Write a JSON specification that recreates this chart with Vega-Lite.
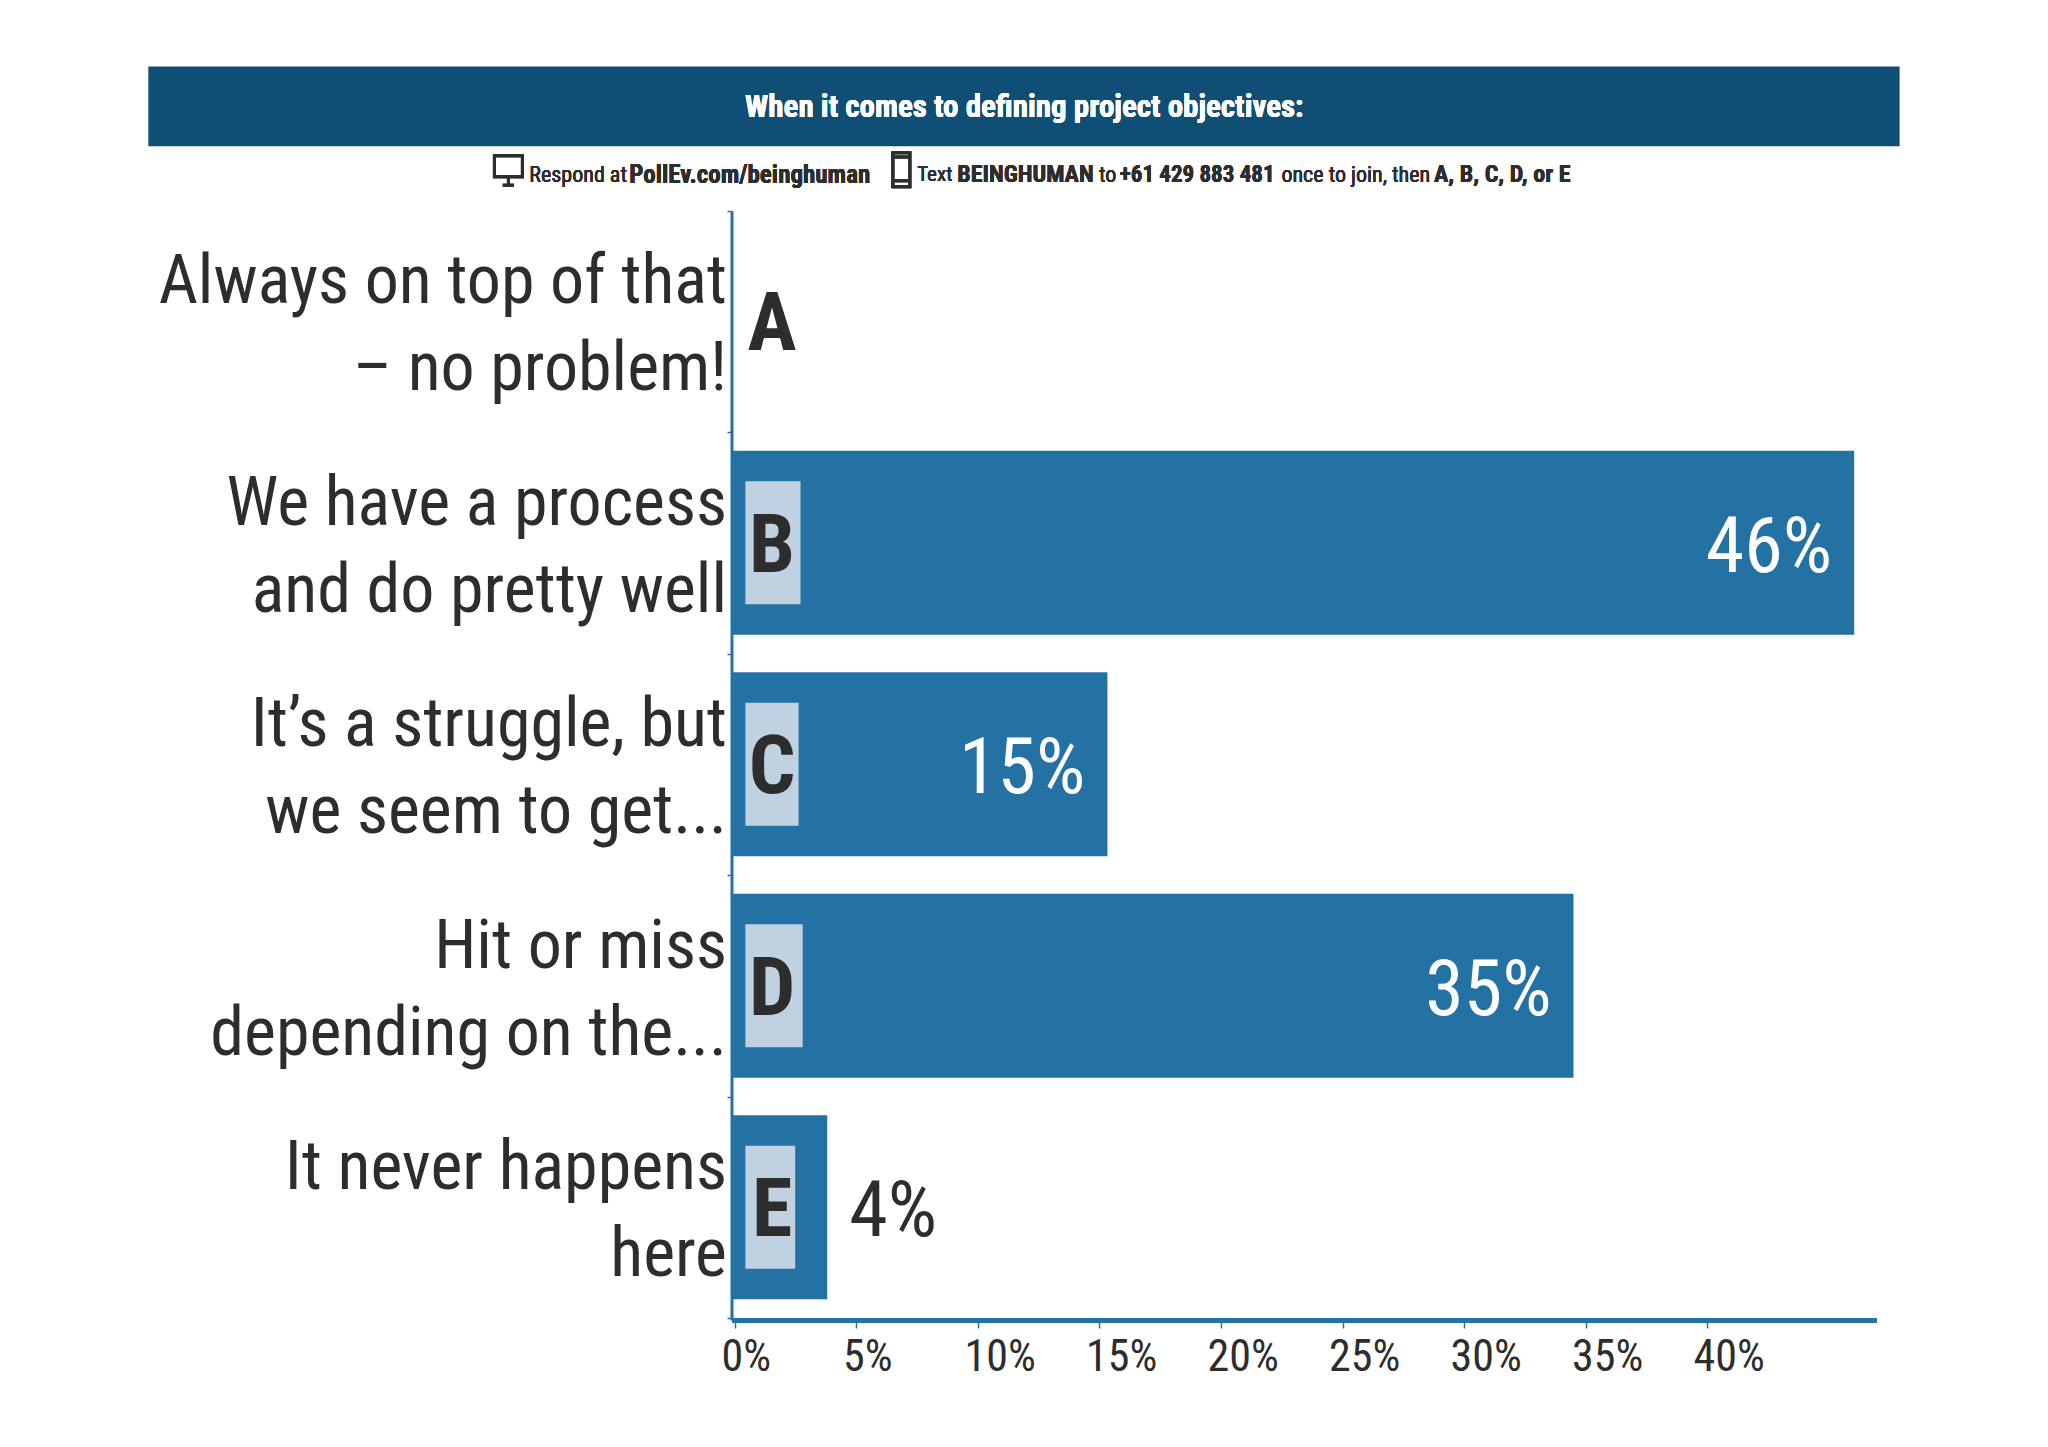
{"$schema":"https://vega.github.io/schema/vega-lite/v6.json","width":2048,"height":1447,"padding":0,"autosize":{"type":"none"},"background":"#ffffff","config":{"view":{"stroke":null},"font":"Roboto Condensed, Lato","text":{"font":"Roboto Condensed, Lato","color":"#2d2d2d"}},
"data":{"values":[
{"row":1,"letter":"A","label":["Always on top of that","– no problem!"],"value":0,"pct":"","tagStart":0.55,"tagEnd":null},
{"row":2,"letter":"B","label":["We have a process","and do pretty well"],"value":46.18,"pct":"46%","tagStart":0.55,"tagEnd":2.82},
{"row":3,"letter":"C","label":["It’s a struggle, but","we seem to get..."],"value":15.45,"pct":"15%","tagStart":0.55,"tagEnd":2.74},
{"row":4,"letter":"D","label":["Hit or miss","depending on the..."],"value":34.63,"pct":"35%","tagStart":0.55,"tagEnd":2.91},
{"row":5,"letter":"E","label":["It never happens","here"],"value":3.92,"pct":"4%","tagStart":0.55,"tagEnd":2.6}]},
"layer":[
{"mark":{"type":"bar","orient":"horizontal","size":184,"color":"#2471a3"},"transform":[{"filter":"datum.value>0"}],"encoding":{"x":{"field":"value","type":"quantitative","stack":null,"scale":{"domain":[-30.123,54.156],"nice":false,"zero":false,"padding":0},"axis":{"values":[0,5,10,15,20,25,30,35,40],"title":null,"grid":false,"domain":false,"offset":-125,"tickColor":"#2471a3","tickSize":6,"tickWidth":1.5,"tickOffset":3,"labelExpr":"datum.value+'%'","labelAlign":"left","labelBaseline":"top","labelOffset":-14,"labelPadding":7,"labelFontSize":44,"labelColor":"#2d2d2d","labelFont":"Roboto Condensed, Lato","labelOverlap":false,"labelBound":false,"labelFlush":false}},"y":{"field":"row","type":"quantitative","scale":{"domain":[-0.4504,6.082],"nice":false,"zero":false,"padding":0,"reverse":true},"axis":{"values":[0.5,1.5,2.5,3.5,4.5,5.5],"title":null,"grid":false,"domain":false,"labels":false,"offset":-732,"tickColor":"#2471a3","tickSize":5,"tickWidth":1.5}}}},
{"data":{"values":[{"x0":-24.02,"x1":48.05,"y0":-0.1497,"y1":0.2101}]},"mark":{"type":"rect","color":"#0f4f75"},"encoding":{"x":{"field":"x0","type":"quantitative"},"x2":{"field":"x1"},"y":{"field":"y0","type":"quantitative"},"y2":{"field":"y1"}}},
{"data":{"values":[{"x0":0,"y0":0.5049,"y1":5.511}]},"mark":{"type":"rule","color":"#2471a3","strokeWidth":3},"encoding":{"x":{"field":"x0","type":"quantitative"},"y":{"field":"y0","type":"quantitative"},"y2":{"field":"y1"}}},
{"data":{"values":[{"x0":0,"x1":47.12,"y0":5.511}]},"mark":{"type":"rule","color":"#2471a3","strokeWidth":5},"encoding":{"x":{"field":"x0","type":"quantitative"},"x2":{"field":"x1"},"y":{"field":"y0","type":"quantitative"}}},
{"mark":{"type":"bar","orient":"horizontal","size":123,"color":"#c0d2e2"},"transform":[{"filter":"datum.value>0"}],"encoding":{"x":{"field":"tagStart","type":"quantitative","stack":null},"x2":{"field":"tagEnd"},"y":{"field":"row","type":"quantitative"}}},
{"mark":{"type":"text","fontSize":82,"fontWeight":"bold","align":"center","baseline":"middle","dy":4},"encoding":{"x":{"datum":1.65,"type":"quantitative"},"y":{"field":"row","type":"quantitative"},"text":{"field":"letter","type":"nominal"}}},
{"mark":{"type":"text","fontSize":68,"align":"right","baseline":"middle","dx":-5,"dy":-38,"lineHeight":87},"encoding":{"x":{"datum":0,"type":"quantitative"},"y":{"field":"row","type":"quantitative"},"text":{"field":"label","type":"nominal"}}},
{"mark":{"type":"text","fontSize":78,"align":"right","baseline":"middle","dx":-22,"dy":6,"color":"#ffffff"},"transform":[{"filter":"datum.value>10"}],"encoding":{"x":{"field":"value","type":"quantitative"},"y":{"field":"row","type":"quantitative"},"text":{"field":"pct","type":"nominal"}}},
{"mark":{"type":"text","fontSize":78,"align":"left","baseline":"middle","dx":22,"dy":6},"transform":[{"filter":"datum.value>0 && datum.value<10"}],"encoding":{"x":{"field":"value","type":"quantitative"},"y":{"field":"row","type":"quantitative"},"text":{"field":"pct","type":"nominal"}}},
{"mark":{"type":"text","fontSize":31,"fontWeight":"bold","align":"center","baseline":"middle","color":"#ffffff","text":"When it comes to defining project objectives:"},"encoding":{"x":{"datum":12.03,"type":"quantitative"},"y":{"datum":0.0387,"type":"quantitative"}}},
{"mark":{"type":"point","shape":"M-1,-1H1V0.5H-1Z M0,0.5V1.1 M-0.4,1.1H0.4","size":784,"filled":false,"stroke":"#2d2d2d","strokeWidth":3},"encoding":{"x":{"datum":-9.2,"type":"quantitative"},"y":{"datum":0.316,"type":"quantitative"}}},
{"mark":{"type":"point","shape":"M-0.5,-1H0.5V1H-0.5Z M-0.5,0.65H0.5 M-0.5,-0.75H0.5","size":1156,"filled":false,"stroke":"#2d2d2d","strokeWidth":3},"encoding":{"x":{"datum":6.97,"type":"quantitative"},"y":{"datum":0.316,"type":"quantitative"}}},
{"mark":{"type":"text","fontSize":22,"align":"left","baseline":"middle","text":"Respond at"},"encoding":{"x":{"datum":-8.34,"type":"quantitative"},"y":{"datum":0.3387,"type":"quantitative"}}},
{"mark":{"type":"text","fontSize":25,"fontWeight":"bold","align":"left","baseline":"middle","text":"PollEv.com/beinghuman"},"encoding":{"x":{"datum":-4.23,"type":"quantitative"},"y":{"datum":0.3387,"type":"quantitative"}}},
{"mark":{"type":"text","fontSize":21,"align":"left","baseline":"middle","text":"Text"},"encoding":{"x":{"datum":7.62,"type":"quantitative"},"y":{"datum":0.3387,"type":"quantitative"}}},
{"mark":{"type":"text","fontSize":24,"fontWeight":"bold","align":"left","baseline":"middle","text":"BEINGHUMAN"},"encoding":{"x":{"datum":9.27,"type":"quantitative"},"y":{"datum":0.3387,"type":"quantitative"}}},
{"mark":{"type":"text","fontSize":22,"align":"left","baseline":"middle","text":"to"},"encoding":{"x":{"datum":15.1,"type":"quantitative"},"y":{"datum":0.3387,"type":"quantitative"}}},
{"mark":{"type":"text","fontSize":23,"fontWeight":"bold","align":"left","baseline":"middle","text":"+61 429 883 481"},"encoding":{"x":{"datum":15.96,"type":"quantitative"},"y":{"datum":0.3387,"type":"quantitative"}}},
{"mark":{"type":"text","fontSize":22,"align":"left","baseline":"middle","text":"once to join, then"},"encoding":{"x":{"datum":22.61,"type":"quantitative"},"y":{"datum":0.3387,"type":"quantitative"}}},
{"mark":{"type":"text","fontSize":24,"fontWeight":"bold","align":"left","baseline":"middle","text":"A, B, C, D, or E"},"encoding":{"x":{"datum":28.89,"type":"quantitative"},"y":{"datum":0.3387,"type":"quantitative"}}}
]}
